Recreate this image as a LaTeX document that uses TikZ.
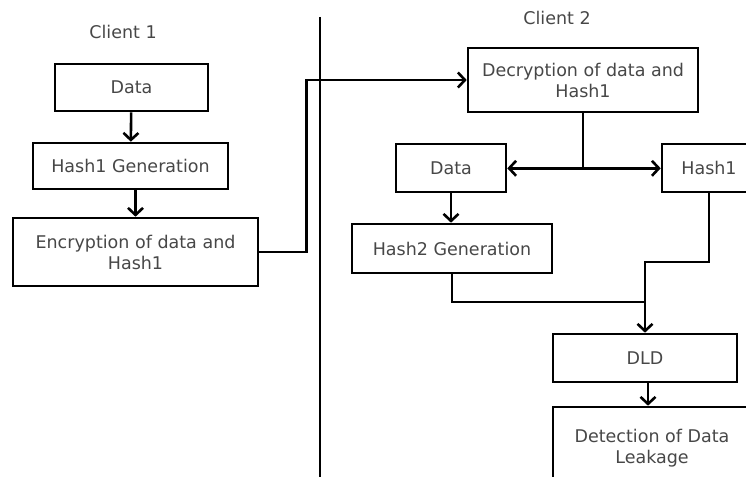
\documentclass[tikz,border=0pt]{standalone}
\usepackage{fontspec}
\setmainfont{DejaVu Sans}
\usetikzlibrary{arrows.meta}
\begin{document}
\begin{tikzpicture}[x=1pt, y=-1pt, line width=2.6pt,
            every node/.style = {text=black!72, font=\fontsize{17.5}{21}\selectfont, align=center},
            box/.style = {draw=black, line width=2.6pt, inner sep=0pt},
            arr/.style = {-{Straight Barb[length=7pt,width=15pt]}}]
            \useasboundingbox (0,0) rectangle (746,476);
            \clip (0,0) rectangle (746,476);
            \node (client1) at (123,32) {Client 1};
            \node (client2) at (557,18) {Client 2};
            \node[box, minimum width=153, minimum height=47] (data1) at (131.5,87.5) {Data};
            \node[box, minimum width=195, minimum height=46] (hash1gen) at (130.5,166) {Hash1 Generation};
            \node[box, minimum width=245, minimum height=68] (enc) at (135.5,252) {Encryption of data and\\Hash1};
            \node[box, minimum width=230, minimum height=64] (dec) at (583,80) {Decryption of data and\\Hash1};
            \node[box, minimum width=110, minimum height=48] (data2) at (451,168) {Data};
            \node[box, minimum width=94, minimum height=48] (hash1) at (709,168) {Hash1};
            \node[box, minimum width=200, minimum height=49] (hash2gen) at (452,248.5) {Hash2 Generation};
            \node[box, minimum width=184, minimum height=48] (dld) at (645,358) {DLD};
            \node[box, minimum width=198, minimum height=82] (detect) at (652,448) {Detection of Data\\Leakage};
            \coordinate (top) at (320,17);
            \coordinate (bottom) at (320,480);
            \draw (top) -- (bottom);
            \draw[arr] (data1) -- (hash1gen);
            \draw[arr] (hash1gen.south -| enc.north) -- (enc.north);
            \draw[arr] (enc.east) -- ++(47,0) |- (dec.west);
            \draw (dec.south) -- ++(0,55) coordinate (split);
            \draw[arr] (split) -- (split -| data2.east);
            \draw[arr] (split) -- (split -| hash1.west);
            \draw[arr] (data2) -- (data2 |- hash2gen.north);
            \coordinate (jog) at (645,262);
            \coordinate (merge) at (645,302);
            \draw[arr] (hash1.south) |- (jog) -- (dld.north);
            \draw (hash2gen.south) |- (merge);
            \draw[arr] (dld.south -| 648,0) -- (detect.north -| 648,0);
        \end{tikzpicture}
\end{document}
